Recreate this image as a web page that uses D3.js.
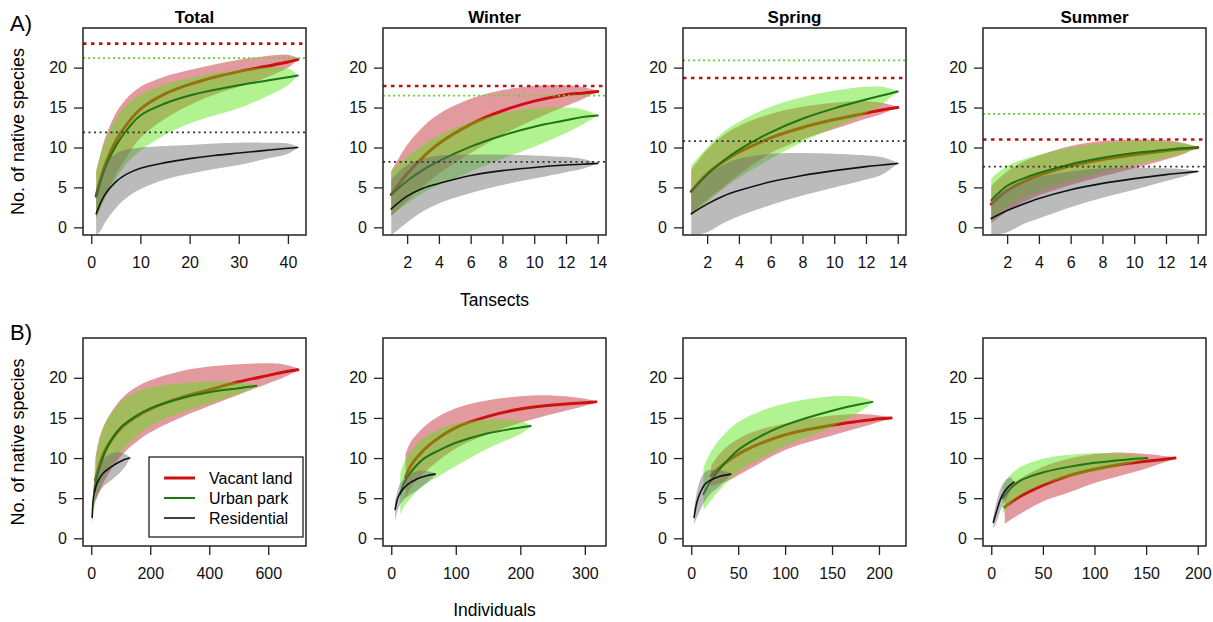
<!DOCTYPE html>
<html>
<head>
<meta charset="utf-8">
<script src="https://cdn.jsdelivr.net/npm/d3@7"></script>
<style>
body{margin:0;background:#fff;}
svg{font-family:"Liberation Sans",Arial,Helvetica,sans-serif;}
</style>
</head>
<body>
<svg id="chart" width="1213" height="622"></svg>
<script>
// each row: [x, mean, lower, upper]
// A) by transects
var aTotalVacant=[[1,3.9,1.2,7],[2,6.3,2.8,9.5],[3,8.1,4.2,11.5],[5,10.8,6.6,14.3],[7,12.7,8.6,16],[10,14.8,11.2,17.6],[15,16.7,13.6,18.9],[20,17.9,15.3,19.7],[25,18.8,16.6,20.4],[30,19.5,17.6,21],[35,20.1,18.6,21.4],[40,20.7,20,21.6],[42,21,21,21.2]];
var aTotalPark=[[1,3.9,1,7],[2,6,2.5,9.3],[3,7.7,3.8,11],[5,10.2,6,13.6],[7,12,7.8,15.2],[10,14,9.6,16.6],[15,15.5,11.6,17.9],[20,16.5,13,18.7],[25,17.2,14,19.3],[30,17.8,14.9,19.7],[35,18.3,16.2,20],[40,18.8,17.8,19.9],[42,19,19,19.1]];
var aTotalResid=[[1,1.7,-1,4.3],[2,3.2,-0.3,6.6],[3,4.3,0.8,8],[5,5.7,2.4,9.2],[7,6.6,3.6,9.7],[10,7.4,4.8,10],[15,8.1,6,10.2],[20,8.6,6.7,10.3],[25,9,7.3,10.5],[30,9.3,7.8,10.6],[35,9.6,8.5,10.6],[40,9.9,9.2,10.5],[42,10,10,10.1]];
var aTotalAsym=[23.0,21.2,11.9];

var aWinterVacant=[[1,4.1,1.4,7],[2,6.7,3.3,10.3],[3,8.8,5.1,12.6],[4,10.5,6.7,14.2],[6,12.9,9.3,16.1],[8,14.6,11.6,17.2],[10,15.8,13.5,17.7],[12,16.6,15.2,17.8],[13,16.8,16,17.6],[14,17,17,17.1]];
var aWinterPark=[[1,4.1,1.5,7],[2,5.8,3,8.8],[3,7.2,4.3,10.3],[4,8.3,5.3,11.5],[6,10.1,7,13.2],[8,11.5,8.6,14.3],[10,12.6,10.1,14.9],[12,13.4,11.8,15],[13,13.8,12.8,14.8],[14,14,14,14.1]];
var aWinterResid=[[1,2.3,-1,6],[2,3.9,0.6,7.8],[3,4.9,2,8.6],[4,5.5,3,9],[6,6.5,4.3,9.1],[8,7.1,5.3,9.1],[10,7.5,6.1,9],[12,7.8,6.9,8.8],[13,7.9,7.3,8.6],[14,8,8,8.1]];
var aWinterAsym=[17.7,16.5,8.2];

var aSpringVacant=[[1,4.5,1.6,7.2],[2,6.7,3.5,9.7],[3,8.2,5,11.5],[4,9.4,6.6,12.7],[6,11.2,9.3,14.2],[8,12.5,11,15.1],[10,13.5,12.3,15.6],[12,14.3,13.6,15.8],[13,14.7,14.2,15.6],[14,15,15,15.1]];
var aSpringPark=[[1,4.5,1.4,7.7],[2,6.6,3.2,10],[3,8.3,4.8,11.9],[4,9.7,6.2,13.2],[6,11.9,8.6,15.1],[8,13.6,10.7,16.3],[10,14.9,12.5,17.1],[12,16,14.3,17.6],[13,16.5,15.4,17.6],[14,17,17,17.1]];
var aSpringResid=[[1,1.7,-1,4.6],[2,2.9,-0.6,6.5],[3,3.9,0.5,7.8],[4,4.6,1.4,8.6],[6,5.7,2.8,9.2],[8,6.5,4,9.3],[10,7.1,5,9.2],[12,7.6,6,9],[13,7.8,6.6,8.8],[14,8,8,8.1]];
var aSpringAsym=[18.7,20.9,10.8];

var aSummerVacant=[[1,2.9,0.5,5.2],[2,4.6,2,7],[3,5.7,3.1,8.2],[4,6.5,4,9],[6,7.7,5.3,10.2],[8,8.5,6.4,10.8],[10,9.1,7.4,11],[12,9.6,8.5,10.9],[13,9.8,9.1,10.6],[14,10,10,10.1]];
var aSummerPark=[[1,3.4,0.6,6.1],[2,5.2,2.6,7.7],[3,6.1,3.7,8.5],[4,6.8,4.5,9.1],[6,7.9,5.8,10],[8,8.7,6.9,10.5],[10,9.3,7.8,10.8],[12,9.7,8.7,10.7],[13,9.9,9.2,10.5],[14,10,10,10.1]];
var aSummerResid=[[1,1.1,-1,3.5],[2,2.1,-0.6,4.8],[3,2.9,0.4,5.7],[4,3.6,1.1,6.3],[6,4.7,2.5,7],[8,5.5,3.7,7.4],[10,6.1,4.7,7.5],[12,6.6,5.8,7.4],[13,6.8,6.3,7.3],[14,7,7,7.1]];
var aSummerAsym=[11.0,14.2,7.6];

// B) by individuals
var bTotalVacant=[[14,7.2,4.5,10],[30,9.4,6,12.8],[50,11.2,7.5,14.6],[100,13.7,10.2,17.3],[150,15.1,11.9,18.8],[200,16.1,13.2,19.7],[300,17.5,15,20.8],[400,18.5,16.5,21.4],[500,19.5,17.9,21.7],[600,20.3,19.3,21.8],[650,20.7,20,21.7],[700,21,20.9,21.2]];
var bTotalPark=[[10,5.8,3.5,8],[20,7.8,5.5,11],[30,9,6.5,12.5],[50,11,8,14.5],[100,13.8,10.8,17],[150,15.2,12.6,18.2],[200,16.2,14,18.8],[300,17.4,15.6,19.3],[400,18.2,16.8,19.5],[500,18.7,18,19.4],[560,19,18.9,19.1]];
var bTotalResid=[[3,2.6,1.5,3.6],[6,4.5,3,5.8],[10,5.6,4.2,7.2],[20,6.9,5.3,8.6],[40,8.1,6.4,9.8],[60,8.7,7,10.4],[80,9.2,7.6,10.7],[100,9.6,8.3,10.7],[120,9.9,9.2,10.4],[130,10,9.9,10.1]];

var bWinterVacant=[[22,7.6,5,10.5],[30,9,6.3,12],[40,10.1,7.3,13],[60,11.7,8.8,14.5],[100,13.8,11.2,16.2],[150,15.2,13,17.2],[200,16.1,14.4,17.7],[250,16.6,15.5,17.8],[300,16.9,16.5,17.4],[317,17,16.9,17.1]];
var bWinterPark=[[14,5.5,3,8],[20,6.9,4,9.5],[30,8.2,5,10.8],[50,9.9,6.6,12.5],[75,11,7.8,13.6],[100,11.9,9,14.3],[150,13.1,11.2,14.8],[200,13.8,13,14.6],[216,14,13.9,14.1]];
var bWinterResid=[[6,3.6,2.2,4.6],[10,5,3.5,6],[15,5.8,4.4,7],[25,6.7,5.2,7.8],[40,7.4,6,8.4],[55,7.8,6.9,8.4],[68,8,7.9,8.1]];

var bSpringVacant=[[21,7.8,6.5,9],[30,8.8,6.8,10.5],[40,9.7,7.2,11.6],[60,11.1,8.5,13],[100,12.9,11,14.3],[150,14.1,12.8,15.3],[180,14.6,13.8,15.5],[200,14.9,14.5,15.3],[213,15,14.9,15.1]];
var bSpringPark=[[13,5.5,3.5,8.8],[20,7,4.6,10.6],[30,8.6,6,12.3],[50,11,8.3,14.5],[75,12.8,10,15.9],[100,14.1,11.5,16.8],[150,15.9,13.9,17.7],[180,16.7,15.8,17.6],[193,17,16.9,17.1]];
var bSpringResid=[[3,2.6,1.8,3.5],[6,4.5,2.6,5.8],[10,5.8,3.6,7.4],[15,6.8,4.7,8.3],[20,7.2,5.5,8.5],[30,7.7,6.5,8.5],[42,8,7.9,8.1]];

var bSummerVacant=[[13,3.9,1.8,6],[25,5,2.8,7.2],[50,6.6,4.6,8.9],[75,7.8,5.7,9.9],[100,8.6,6.9,10.5],[125,9.2,7.8,10.7],[150,9.6,8.7,10.5],[178,10,9.9,10.1]];
var bSummerPark=[[11,5,3,6.5],[20,6.4,4.5,8.1],[30,7.3,5.5,9],[50,8.2,6.7,9.9],[75,8.9,7.6,10.4],[100,9.4,8.3,10.6],[130,9.8,9.2,10.5],[151,10,9.9,10.1]];
var bSummerResid=[[2,2,1.2,2.6],[5,3.3,2,4.5],[10,5.2,3.8,6.5],[15,6.2,5,7.4],[18,6.6,5.8,7.6],[22,7,6.9,7.1]];

var panelTitles=['Total','Winter','Spring','Summer'];
var legendLabels=['Vacant land','Urban park','Residential'];
var yTicks=[0,5,10,15,20];
var xTicksA=[[0,10,20,30,40],[2,4,6,8,10,12,14],[2,4,6,8,10,12,14],[2,4,6,8,10,12,14]];
var xTicksB=[[0,200,400,600],[0,100,200,300],[0,50,100,150,200],[0,50,100,150,200]];
var xLimA=[[0,42],[1,14],[1,14],[1,14]];
var xLimB=[[0,700],[0,320],[0,220],[0,200]];
var yLim=[0,24];

var styles=[
    {line:'#cc1111',fill:'rgba(195,35,45,0.46)',lw:3,dash:'#b81414',dw:2.6,da:'3.5,4.5'},
    {line:'#1d7514',fill:'rgba(85,228,15,0.46)',lw:2,dash:'#5fd82c',dw:1.8,da:'2,3'},
    {line:'#111111',fill:'rgba(105,105,105,0.45)',lw:1.6,dash:'#333333',dw:1.8,da:'2,3.5'}
];

var svg=d3.select('#chart');
var colLeft=[83,383,683,983];
var panelW=223;
var rows=[{top:28,h:207},{top:338,h:208}];

// R style 4% extension of limits
function rlim(l) {
    var r=l[1]-l[0];
    return [l[0]-0.04*r,l[1]+0.04*r];
}

var clipCount=0;
function drawPanel(left,row,xlim,xticks,series,asym,title) {
    var top=row.top, h=row.h, w=panelW;
    var x=d3.scaleLinear().domain(rlim(xlim)).range([left,left+w]);
    var y=d3.scaleLinear().domain(rlim(yLim)).range([top+h,top]);
    var id='clip'+(clipCount++);
    svg.append('clipPath').attr('id',id)
        .append('rect').attr('x',left).attr('y',top).attr('width',w).attr('height',h);
    var gg=svg.append('g').attr('clip-path','url(#'+id+')');

    var curve=d3.curveCatmullRom.alpha(0.5);
    var area=d3.area().curve(curve)
        .x(function(d) {return x(d[0]);})
        .y0(function(d) {return y(d[2]);})
        .y1(function(d) {return y(d[3]);});
    var line=d3.line().curve(curve)
        .x(function(d) {return x(d[0]);})
        .y(function(d) {return y(d[1]);});

    for (var s=0; s<series.length; s++) {
        var st=styles[s];
        gg.append('path').attr('d',area(series[s])).attr('fill',st.fill).attr('stroke','none');
        gg.append('path').attr('d',line(series[s]))
            .attr('fill','none').attr('stroke',st.line).attr('stroke-width',st.lw)
            .attr('stroke-linecap','round');
    }
    if (asym) {
        for (var s=0; s<asym.length; s++) {
            var st=styles[s];
            svg.append('line')
                .attr('x1',left).attr('x2',left+w)
                .attr('y1',y(asym[s])).attr('y2',y(asym[s]))
                .attr('stroke',st.dash).attr('stroke-width',st.dw)
                .attr('stroke-dasharray',st.da);
        }
    }

    var yAxis=d3.axisLeft(y).tickValues(yTicks).tickSize(9).tickPadding(7);
    svg.append('g').attr('transform','translate('+left+',0)').call(yAxis)
        .call(function(g) {g.select('.domain').remove();});
    var xAxis=d3.axisBottom(x).tickValues(xticks).tickSize(9).tickPadding(13);
    svg.append('g').attr('transform','translate(0,'+(top+h)+')').call(xAxis)
        .call(function(g) {g.select('.domain').remove();});
    svg.selectAll('.tick text').style('font-size','16px').attr('fill','#111')
        .style('font-family','"Liberation Sans",Arial,sans-serif');
    svg.selectAll('.tick line').attr('stroke','#222').attr('stroke-width',1.3);

    svg.append('rect').attr('x',left).attr('y',top).attr('width',w).attr('height',h)
        .attr('fill','none').attr('stroke','#222').attr('stroke-width',1.5);

    if (title) {
        svg.append('text').attr('x',left+w/2).attr('y',top-5)
            .attr('text-anchor','middle').style('font-size','17px').style('font-weight','bold')
            .text(title);
    }
}

var seriesA=[[aTotalVacant,aTotalPark,aTotalResid],[aWinterVacant,aWinterPark,aWinterResid],
    [aSpringVacant,aSpringPark,aSpringResid],[aSummerVacant,aSummerPark,aSummerResid]];
var asymA=[aTotalAsym,aWinterAsym,aSpringAsym,aSummerAsym];
var seriesB=[[bTotalVacant,bTotalPark,bTotalResid],[bWinterVacant,bWinterPark,bWinterResid],
    [bSpringVacant,bSpringPark,bSpringResid],[bSummerVacant,bSummerPark,bSummerResid]];

for (var c=0; c<4; c++) {
    drawPanel(colLeft[c],rows[0],xLimA[c],xTicksA[c],seriesA[c],asymA[c],panelTitles[c]);
    drawPanel(colLeft[c],rows[1],xLimB[c],xTicksB[c],seriesB[c],null,null);
}

// panel letters and axis titles
svg.append('text').attr('x',10).attr('y',31).style('font-size','22px').text('A)');
svg.append('text').attr('x',10).attr('y',340).style('font-size','22px').text('B)');
svg.append('text').attr('transform','translate(24,'+(rows[0].top+rows[0].h/2)+') rotate(-90)')
    .attr('text-anchor','middle').style('font-size','18px').text('No. of native species');
svg.append('text').attr('transform','translate(24,'+(rows[1].top+rows[1].h/2)+') rotate(-90)')
    .attr('text-anchor','middle').style('font-size','18px').text('No. of native species');
svg.append('text').attr('x',colLeft[1]+panelW/2).attr('y',306)
    .attr('text-anchor','middle').style('font-size','17.5px').text('Tansects');
svg.append('text').attr('x',colLeft[1]+panelW/2).attr('y',616)
    .attr('text-anchor','middle').style('font-size','17.5px').text('Individuals');

// legend
var lg=svg.append('g');
lg.append('rect').attr('x',149).attr('y',457).attr('width',154).attr('height',80)
    .attr('fill','#fff').attr('stroke','#222').attr('stroke-width',1.3);
for (var i=0; i<legendLabels.length; i++) {
    var ly=478+i*20;
    lg.append('line').attr('x1',164).attr('x2',195).attr('y1',ly).attr('y2',ly)
        .attr('stroke',styles[i].line).attr('stroke-width',styles[i].lw);
    lg.append('text').attr('x',209).attr('y',ly+5.5).style('font-size','16px').text(legendLabels[i]);
}
</script>
</body>
</html>
